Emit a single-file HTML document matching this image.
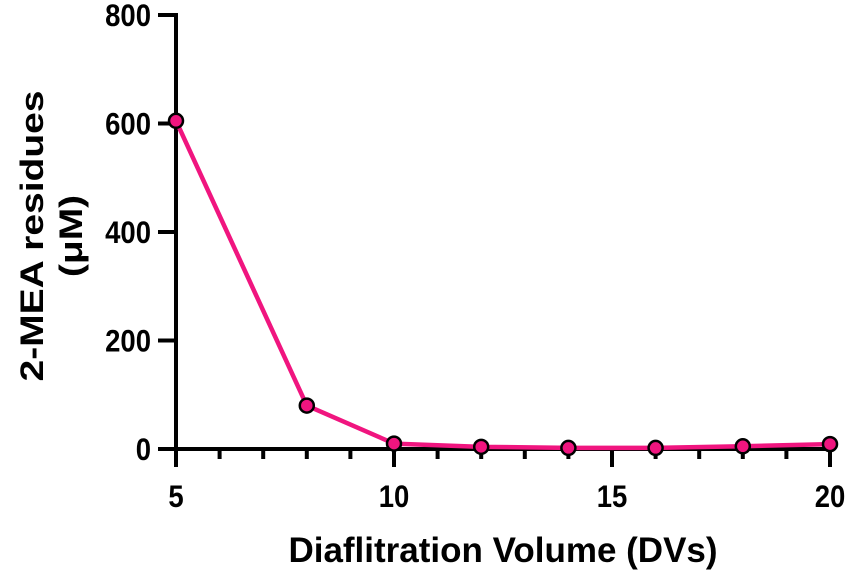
<!DOCTYPE html>
<html><head><meta charset="utf-8"><style>
body{margin:0;background:#fff}
svg{display:block;font-family:"Liberation Sans",Arial,sans-serif;font-weight:bold}
</style></head><body>
<svg id="chart" width="851" height="570" viewBox="0 0 851 570"></svg>
<script>
const xValues=[5,8,10,12,14,16,18,20];
const yValues=[605,80,10,4,2,2,5,9];
const xTickLabels=[5,10,15,20];
const yTickLabels=[0,200,400,600,800];
const NS="http://www.w3.org/2000/svg";
const svg=document.getElementById('chart');
const X0=176,X1=830,Y0=449,Y1=15;
const xs=v=>X0+(v-5)/(20-5)*(X1-X0);
const ys=v=>Y0-(v/800)*(Y0-Y1);
function mk(t,a,p){const e=document.createElementNS(NS,t);for(const k in a)e.setAttribute(k,a[k]);(p||svg).appendChild(e);return e;}
let e;
e=mk('line',{x1:X0,y1:Y1-2,x2:X0,y2:Y0+18,stroke:'#000','stroke-width':4});


e=mk('line',{x1:X0-18,y1:Y0,x2:X1+2,y2:Y0,stroke:'#000','stroke-width':4});


for(let v=6;v<=19;v++){if(v%5===0)continue;
 e=mk('line',{x1:xs(v),y1:Y0,x2:xs(v),y2:Y0+10,stroke:'#000','stroke-width':4});
 
 }
xTickLabels.forEach(v=>{
 e=mk('line',{x1:xs(v),y1:Y0,x2:xs(v),y2:Y0+18,stroke:'#000','stroke-width':4});
 
 
 e=mk('text',{x:0,y:0,transform:`translate(${xs(v)},507) scale(1,1.15)`,'text-anchor':'middle','font-size':27.5});e.textContent=v;
 
 });
yTickLabels.forEach(v=>{
 e=mk('line',{x1:X0-18,y1:ys(v),x2:X0,y2:ys(v),stroke:'#000','stroke-width':4});
 
 
 e=mk('text',{x:0,y:0,transform:`translate(151,${ys(v)+11}) scale(1,1.15)`,'text-anchor':'end','font-size':27.5});e.textContent=v;
 
 });
e=mk('polyline',{points:xValues.map((x,i)=>xs(x)+','+ys(yValues[i])).join(' '),fill:'none',stroke:'#f0157f','stroke-width':4.5,'stroke-linejoin':'round'});


xValues.forEach((x,i)=>{
 e=mk('circle',{cx:xs(x),cy:ys(yValues[i]),r:7,fill:'#f0157f',stroke:'#000','stroke-width':2.5});
 
 });
e=mk('text',{x:503,y:562,'text-anchor':'middle','font-size':35});e.textContent='Diaflitration Volume (DVs)';


e=mk('text',{x:0,y:0,transform:'translate(43,236) rotate(-90) scale(1.2,1)','text-anchor':'middle','font-size':32.5});e.textContent='2-MEA residues';


e=mk('text',{x:0,y:0,transform:'translate(82,236) rotate(-90) scale(1.2,1)','text-anchor':'middle','font-size':32.5});e.textContent='(μM)';


</script>
</body></html>
